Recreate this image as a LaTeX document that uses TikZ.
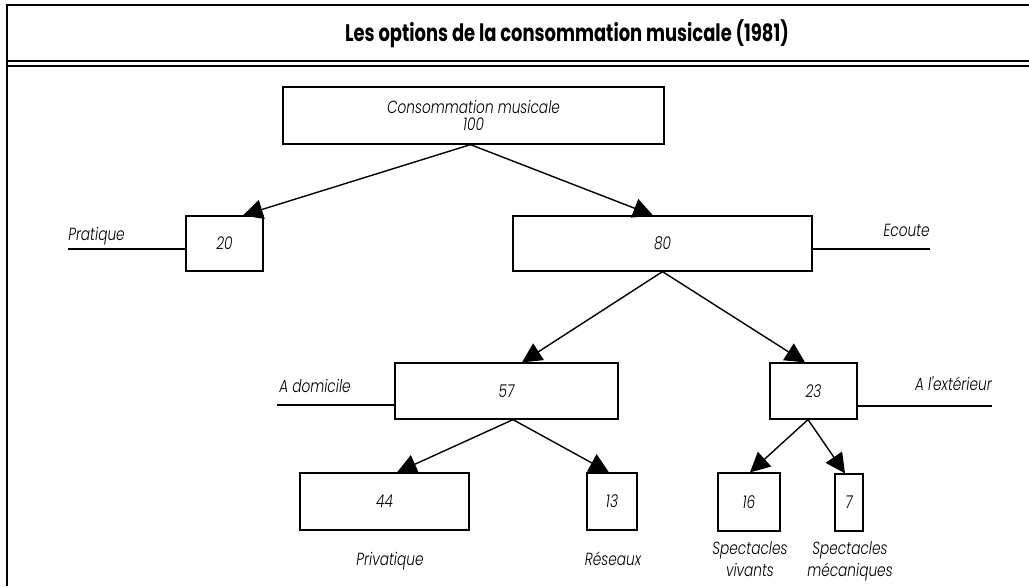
\documentclass[tikz,border=0pt]{standalone}
\usepackage{fontspec}
\setmainfont{Poppins Light}
\newfontfamily\titlefont{Poppins}[FakeStretch=0.75]
\newfontfamily\labelfont{Poppins Light}[FakeStretch=0.78]
\usetikzlibrary{arrows.meta,calc}
\newcommand\lbl{\labelfont\fontsize{12.5}{13.5}\selectfont\itshape}

\begin{document}
\begin{tikzpicture}[x=0.025cm,y=-0.025cm,>={Triangle[length=14pt,width=14pt]},
  box/.style 2 args={draw,line width=0.9pt,minimum width=#1*0.025cm,minimum height=#2*0.025cm,inner sep=0pt,font=\lbl},
  lbl/.style={inner sep=0pt,font=\lbl},
  side/.style={line width=0.9pt}]
\useasboundingbox (0,0) rectangle (1029,586);
%%%FRAME AND TITLE
\draw[line width=1pt] (1029,5) -- (7,5) -- (7,586);
\draw[line width=1pt] (7,61) -- (1029,61) (7,66) -- (1029,66);
\node[inner sep=0pt,font=\titlefont\bfseries\fontsize{17}{20}\selectfont] (title) at (567,34) {Les options de la consommation musicale (1981)};
%%%BOXES
\node[box={381}{57},align=center] (conso) at (473.5,115.5) {Consommation musicale\\[-1pt]100};
\node[box={77}{55}] (n20) at (224.5,243.5) {20};
\node[box={299}{55}] (n80) at (662.5,243.5) {80};
\node[box={223}{56}] (n57) at (506.5,391) {57};
\node[box={87}{56}] (n23) at (813.5,391) {23};
\node[box={169}{57}] (n44) at (384.5,501.5) {44};
\node[box={50}{57}] (n13) at (612,501.5) {13};
\node[box={62}{58}] (n16) at (749,502) {16};
\node[box={28}{57}] (n7) at (849,502.5) {7};
%%%SIDE LABELS
\coordinate (pratiqueEnd) at (68,249);
\coordinate (ecouteEnd) at (930,249);
\coordinate (domicileEnd) at (277,405);
\coordinate (exterieurEnd) at (992,406);
\draw[side] (pratiqueEnd) -- (pratiqueEnd -| n20.west);
\draw[side] (ecouteEnd -| n80.east) -- (ecouteEnd);
\draw[side] (domicileEnd) -- (domicileEnd -| n57.west);
\draw[side] (exterieurEnd -| n23.east) -- (exterieurEnd);
\node[lbl,anchor=base west] (pratique) at (68,240) {Pratique};
\node[lbl,anchor=base east] (ecoute) at (930,236) {Ecoute};
\node[lbl,anchor=base west] (domicile) at (279,392) {A domicile};
\node[lbl,anchor=base east] (exterieur) at (992,390) {A l'extérieur};
%%%BOTTOM LABELS
\node[lbl,anchor=base] (privatique) at (390,565) {Privatique};
\node[lbl,anchor=base] (reseaux) at (613,565) {Réseaux};
\node[lbl,anchor=north,align=center] (vivants) at (750,541) {Spectacles\\[2pt]vivants};
\node[lbl,anchor=north,align=center] (mecaniques) at (850,541) {Spectacles\\[2pt]mécaniques};
%%%ARROWS
\draw[->, line width=1pt] ($(conso.south)+(-3,0)$) -- ($(n20.north)+(18.5,0)$);
\draw[->, line width=1pt] ($(conso.south)+(-3,0)$) -- ($(n80.north)+(-9.5,0)$);
\draw[->, line width=1pt] (n80.south) -- ($(n57.north)+(15.5,0)$);
\draw[->, line width=1pt] (n80.south) -- ($(n23.north)+(-8.5,0)$);
\draw[->, line width=1pt] ($(n57.south)+(6.5,0)$) -- ($(n44.north)+(12.5,0)$);
\draw[->, line width=1pt] ($(n57.south)+(6.5,0)$) -- ($(n13.north)+(-3,0)$);
\draw[->, line width=1pt] ($(n23.south)+(-5.5,0)$) -- ($(n16.north)+(1,0)$);
\draw[->, line width=1pt] ($(n23.south)+(-5.5,0)$) -- ($(n7.north)+(-4,0)$);
\end{tikzpicture}
\end{document}
